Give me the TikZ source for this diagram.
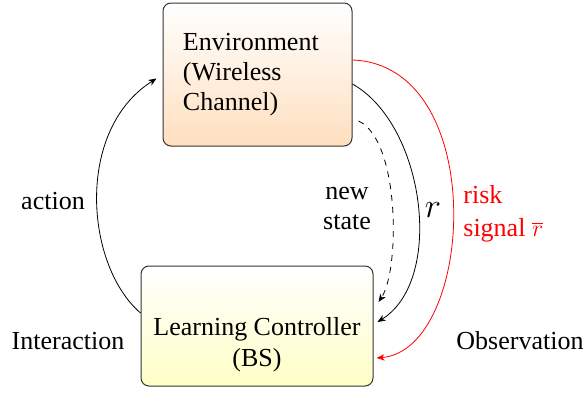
\documentclass[tikz,border=0pt]{standalone}
\usepackage{fontspec}
\setmainfont{Liberation Serif}
\usetikzlibrary{arrows.meta,calc}
\tikzset{
  lbl/.style={font=\fontsize{13}{15}\selectfont, inner sep=0pt},
  envbox/.style={rectangle, rounded corners=4pt, draw=black!80, line width=0.5pt,
    top color=white, bottom color=orange!25, minimum width=94.5pt, minimum height=71.5pt,
    inner sep=0pt, text width=74.5pt, align=left, font=\fontsize{13}{15}\selectfont},
  ctrlbox/.style={rectangle, rounded corners=4pt, draw=black!80, line width=0.5pt,
    top color=white, bottom color=yellow!22, minimum width=116pt, minimum height=60pt,
    inner sep=0pt, font=\fontsize{13}{15.5}\selectfont},
  conn/.style={line width=0.4pt, -{Stealth[length=4pt,width=3.2pt,inset=1.2pt]}},
}
\begin{document}
\begin{tikzpicture}[x=0.5pt,y=-0.5pt]
\useasboundingbox (0,0) rectangle (585,396);
\node[envbox] (env) at (257.5,74.5) {Environment\\(Wireless\\Channel)};
\node[ctrlbox] (ctrl) at (257,326) {\parbox[c][43pt][b]{110pt}{\centering Learning Controller\\(BS)}};
% action
\coordinate (actS) at ($(ctrl.west)+(0,-13)$);
\coordinate (actE) at ($(env.west)+(-6,4)$);
\draw[conn] (actS) .. controls (85,265) and (75,130) .. (actE);
% r
\coordinate (rS) at ($(env.east)+(0,9.5)$);
\coordinate (rE) at ($(ctrl.east)+(4,-4)$);
\draw[conn] (rS) .. controls (425,125) and (445,280) .. (rE);
% new state (dashed)
\coordinate (nsS) at ($(env.east)+(6,46.5)$);
\coordinate (nsE) at ($(ctrl.east)+(5,-24)$);
\draw[conn, dashed] (nsS) .. controls (400,140) and (400,270) .. (nsE);
% risk signal (red)
\coordinate (rkS) at ($(env.east)+(0,-14.5)$);
\coordinate (rkE) at ($(ctrl.east)+(3,32)$);
\draw[conn, red] (rkS) .. controls (490,65) and (475,350) .. (rkE);
% labels
\node[lbl] (lact) at (53,201) {action};
\node[lbl] (linter) at (68,341) {Interaction};
\node[lbl] (lobs) at (520,341) {Observation};
\node[lbl, align=center] (lns) at (347,209) {new\\state};
\node[lbl, font=\fontsize{16}{18}\selectfont] (lr) at (433,210) {$r$};
\node[lbl, align=left, anchor=west, red, font=\fontsize{13}{16.5}\selectfont] (lrisk) at (463,214) {risk\\signal $\overline{r}$};
\end{tikzpicture}
\end{document}
